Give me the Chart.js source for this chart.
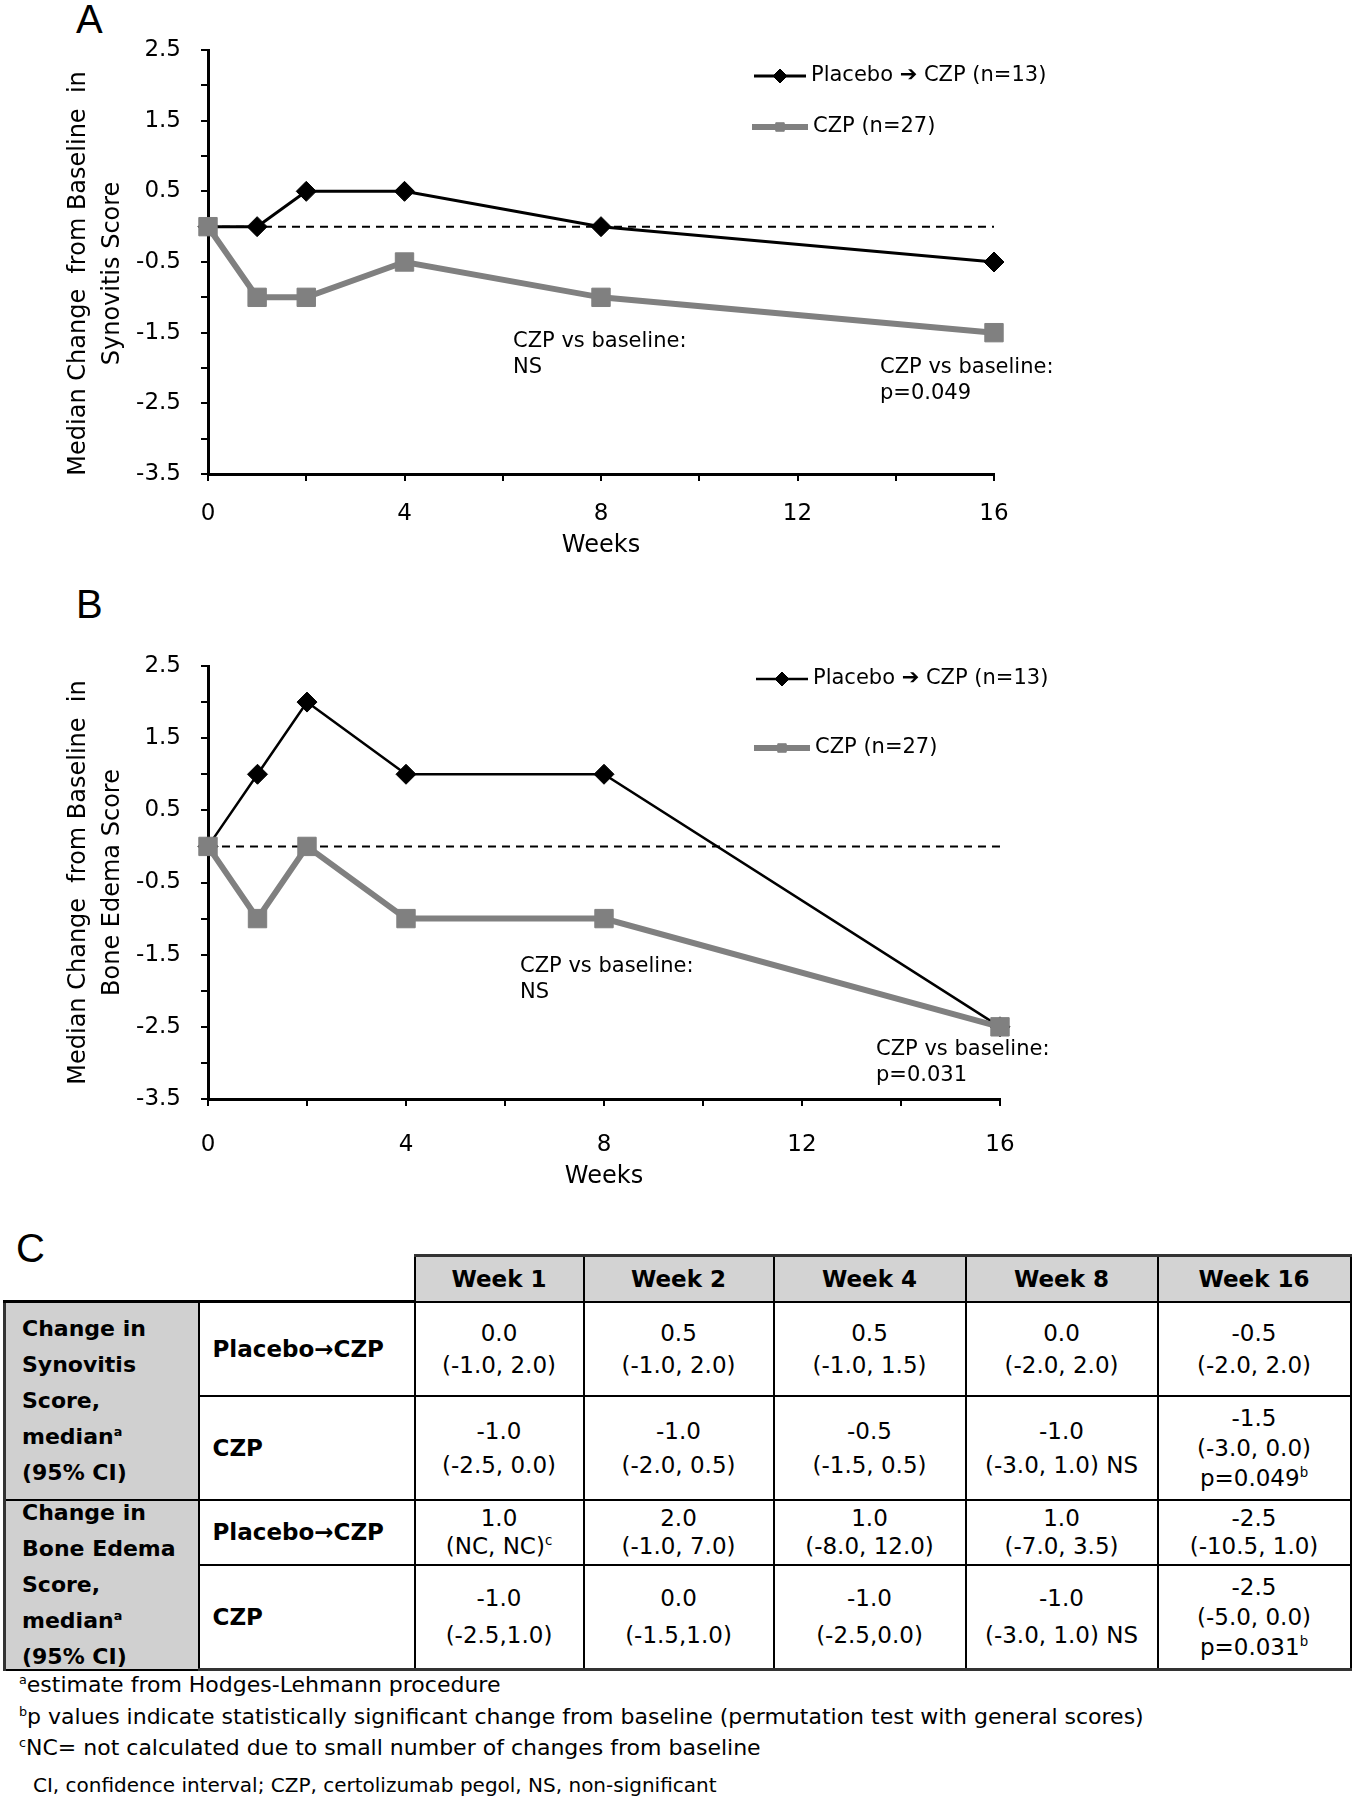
<!DOCTYPE html>
<html>
<head>
<meta charset="utf-8">
<title>Median change from baseline: synovitis and bone edema</title>
<script src="https://cdn.jsdelivr.net/npm/chart.js@4.4.1/dist/chart.umd.min.js"></script>
<style>
  html, body { margin: 0; padding: 0; background: #fff; }
  body { position: relative; width: 1352px; height: 1800px; overflow: hidden; font-family: "DejaVu Sans", Verdana, sans-serif; color: #000; }
  .panel { position: absolute; font-family: "Liberation Sans", Arial, sans-serif; font-size: 40px; line-height: 40px; }
  .plot { position: absolute; left: 0; }
  #tbl { position: absolute; left: 3px; top: 1254px; border-collapse: collapse; table-layout: fixed; }
  #tbl td { border: 2px solid #000; padding: 0; text-align: center; vertical-align: middle; font-size: 23px; overflow: visible; }
  #tbl td.blank { border: none; border-bottom: 3px solid #000; }
  #tbl td.head { background: #d3d3d3; font-weight: bold; border-top: 3px solid #333; }
  #tbl td.lab { background: #d0d0d0; font-weight: bold; text-align: left; padding-left: 16px; line-height: 36px; font-size: 22px; border-left: 3px solid #333; }
  #tbl td.lab div { margin: -7px 0; }
  #tbl td.grp { font-weight: bold; text-align: left; padding-left: 13px; }
  #tbl tr:last-child td { border-bottom: 3px solid #333; }
  sup { font-size: 58%; line-height: 0; vertical-align: super; }
  .notes { position: absolute; left: 19px; top: 1669px; font-size: 22px; line-height: 31.5px; white-space: nowrap; }
  .notes .last { margin-top: 6px; padding-left: 14px; font-size: 20px; }
</style>
</head>
<body>
<div class="panel" style="left:76px; top:-1px;">A</div>
<div class="panel" style="left:76px; top:584px;">B</div>
<div class="panel" style="left:16px; top:1228px;">C</div>
<canvas id="chartA" class="plot" width="1100" height="560" style="top:0;"></canvas>
<canvas id="chartB" class="plot" width="1100" height="640" style="top:560px;"></canvas>
<table id="tbl"></table>
<div class="notes" id="notes"></div>
<script>
// weeks and medians
const weeks = [0, 1, 2, 4, 8, 16];
const synPlacebo = [0, 0, 0.5, 0.5, 0, -0.5];
const synCzp = [0, -1, -1, -0.5, -1, -1.5];
const edemaPlacebo = [0, 1, 2, 1, 1, -2.5];
const edemaCzp = [0, -1, 0, -1, -1, -2.5];
const baselineValue = 0;

const placeboLabel = 'Placebo \u2794 CZP (n=13)';
const czpLabel = 'CZP (n=27)';

// table C
const tableWeeks = ['Week 1', 'Week 2', 'Week 4', 'Week 8', 'Week 16'];
const groupNames = ['Placebo\u2192CZP', 'CZP'];
const synLabel = ['Change in', 'Synovitis', 'Score,', 'median<sup>a</sup>', '(95% CI)'];
const edemaLabel = ['Change in', 'Bone Edema', 'Score,', 'median<sup>a</sup>', '(95% CI)'];
const synPlaceboCells = [['0.0', '(-1.0, 2.0)'], ['0.5', '(-1.0, 2.0)'], ['0.5', '(-1.0, 1.5)'], ['0.0', '(-2.0, 2.0)'], ['-0.5', '(-2.0, 2.0)']];
const synCzpCells = [['-1.0', '(-2.5, 0.0)'], ['-1.0', '(-2.0, 0.5)'], ['-0.5', '(-1.5, 0.5)'], ['-1.0', '(-3.0, 1.0) NS'], ['-1.5', '(-3.0, 0.0)', 'p=0.049<sup>b</sup>']];
const edemaPlaceboCells = [['1.0', '(NC, NC)<sup>c</sup>'], ['2.0', '(-1.0, 7.0)'], ['1.0', '(-8.0, 12.0)'], ['1.0', '(-7.0, 3.5)'], ['-2.5', '(-10.5, 1.0)']];
const edemaCzpCells = [['-1.0', '(-2.5,1.0)'], ['0.0', '(-1.5,1.0)'], ['-1.0', '(-2.5,0.0)'], ['-1.0', '(-3.0, 1.0) NS'], ['-2.5', '(-5.0, 0.0)', 'p=0.031<sup>b</sup>']];
const footnotes = [
  '<sup>a</sup>estimate from Hodges-Lehmann procedure',
  '<sup>b</sup>p values indicate statistically significant change from baseline (permutation test with general scores)',
  '<sup>c</sup>NC= not calculated due to small number of changes from baseline'
];
const abbreviations = 'CI, confidence interval; CZP, certolizumab pegol, NS, non-significant';

const czpGray = '#808080';
const fontFam = '"DejaVu Sans", Verdana, sans-serif';

// legend drawn beside the plot, using each dataset's own style
const sideLegend = {
  id: 'sideLegend',
  afterDatasetsDraw(chart, args, opts) {
    const ctx = chart.ctx;
    opts.items.forEach(it => {
      const ds = chart.data.datasets[it.ds];
      ctx.save();
      ctx.strokeStyle = ds.borderColor;
      ctx.lineWidth = ds.borderWidth;
      ctx.beginPath();
      ctx.moveTo(it.x, it.y);
      ctx.lineTo(it.x + it.len, it.y);
      ctx.stroke();
      ctx.fillStyle = ds.backgroundColor;
      ctx.lineWidth = 1;
      Chart.helpers.drawPoint(ctx, { pointStyle: ds.pointStyle, radius: it.r, borderWidth: 1, rotation: 0 }, it.x + it.len / 2, it.y);
      ctx.fillStyle = '#000';
      ctx.font = '21px ' + fontFam;
      ctx.textBaseline = 'middle';
      ctx.fillText(ds.label, it.x + it.len + 5, it.y);
      ctx.restore();
    });
  }
};

const notes = {
  id: 'notes',
  afterDatasetsDraw(chart, args, opts) {
    const ctx = chart.ctx;
    ctx.save();
    ctx.fillStyle = '#000';
    ctx.font = '21px ' + fontFam;
    ctx.textBaseline = 'middle';
    opts.items.forEach(n => n.lines.forEach((t, i) => ctx.fillText(t, n.x, n.y + i * 26)));
    ctx.restore();
  }
};

function toPoints(vals) {
  return weeks.map((w, i) => ({ x: w, y: vals[i] }));
}

function buildChart(id, placebo, czp, cfg) {
  const axisGrid = { drawOnChartArea: false, color: '#000', lineWidth: 2, tickLength: 7 };
  const axisBorder = { color: '#000', width: 3 };
  return new Chart(document.getElementById(id), {
    type: 'line',
    data: {
      datasets: [
        { label: czpLabel, data: toPoints(czp), borderColor: czpGray, backgroundColor: czpGray,
          borderWidth: 6, pointStyle: 'rect', pointRadius: 13, pointBorderWidth: 1, order: 0, clip: false },
        { label: placeboLabel, data: toPoints(placebo), borderColor: '#000', backgroundColor: '#000',
          borderWidth: cfg.placeboWidth, pointStyle: 'rectRot', pointRadius: 10, pointBorderWidth: 1, order: 1, clip: false },
        { label: 'baseline', data: [{ x: weeks[0], y: baselineValue }, { x: weeks[weeks.length - 1], y: baselineValue }],
          borderColor: '#000', borderWidth: 2, borderDash: [8, 6], pointRadius: 0, order: 2, clip: false }
      ]
    },
    options: {
      responsive: false,
      animation: false,
      devicePixelRatio: 1,
      events: [],
      layout: { padding: { top: cfg.top, right: cfg.right, left: 0, bottom: 0 } },
      plugins: {
        legend: { display: false },
        tooltip: { enabled: false },
        sideLegend: { items: cfg.legend },
        notes: { items: cfg.notes }
      },
      scales: {
        x: {
          type: 'linear', min: 0, max: 16,
          ticks: { stepSize: 2, autoSkip: false, maxRotation: 0, padding: cfg.xTickPad, color: '#000',
            font: { family: fontFam, size: 23 }, callback: v => (v % 4 === 0 ? String(v) : '') },
          grid: axisGrid, border: axisBorder,
          title: { display: true, text: 'Weeks', color: '#000', font: { family: fontFam, size: 24 },
            padding: { top: 0, bottom: cfg.titlePad } },
          afterFit: s => { s.height = cfg.xHeight; }
        },
        y: {
          type: 'linear', min: -3.5, max: 2.5,
          ticks: { stepSize: 0.5, autoSkip: false, padding: 20, color: '#000',
            font: { family: fontFam, size: 23 },
            callback: v => (Math.round(Math.abs(v * 2)) % 2 === 1 ? v.toFixed(1) : '') },
          grid: axisGrid, border: axisBorder,
          title: { display: true, text: cfg.yTitle, color: '#000', font: { family: fontFam, size: 24, lineHeight: 1.42 },
            padding: { top: 62, bottom: 0 } },
          afterFit: s => { s.width = 208; }
        }
      }
    },
    plugins: [sideLegend, notes]
  });
}

buildChart('chartA', synPlacebo, synCzp, {
  top: 50, right: 106, xHeight: 86, xTickPad: 19, titlePad: 0, placeboWidth: 3,
  yTitle: ['Median Change  from Baseline  in   ', 'Synovitis Score   '],
  legend: [{ ds: 1, x: 754, y: 76, len: 52, r: 7 }, { ds: 0, x: 752, y: 127, len: 56, r: 6 }],
  notes: [{ x: 513, y: 342, lines: ['CZP vs baseline:', 'NS'] }, { x: 880, y: 368, lines: ['CZP vs baseline:', 'p=0.049'] }]
});

buildChart('chartB', edemaPlacebo, edemaCzp, {
  top: 106, right: 100, xHeight: 101, xTickPad: 25, titlePad: 9, placeboWidth: 2.5,
  yTitle: ['Median Change  from Baseline  in', 'Bone Edema Score'],
  legend: [{ ds: 1, x: 756, y: 119, len: 52, r: 7 }, { ds: 0, x: 754, y: 188, len: 56, r: 6 }],
  notes: [{ x: 520, y: 407, lines: ['CZP vs baseline:', 'NS'] }, { x: 876, y: 490, lines: ['CZP vs baseline:', 'p=0.031'] }]
});

// table C
const colWidths = [194, 216, 169, 190, 192, 192, 193];
const rowHeights = [94, 104, 65, 105];
const rowLines = [32, 34, 28, 37];
const tbl = document.getElementById('tbl');
let html = '<colgroup>' + colWidths.map(w => '<col style="width:' + w + 'px">').join('') + '</colgroup>';
html += '<tr style="height:46px"><td class="blank" colspan="2"></td>' + tableWeeks.map(w => '<td class="head">' + w + '</td>').join('') + '</tr>';
const bodyRows = [
  { label: synLabel, group: groupNames[0], cells: synPlaceboCells },
  { group: groupNames[1], cells: synCzpCells },
  { label: edemaLabel, group: groupNames[0], cells: edemaPlaceboCells },
  { group: groupNames[1], cells: edemaCzpCells }
];
bodyRows.forEach((r, i) => {
  html += '<tr style="height:' + rowHeights[i] + 'px">';
  if (r.label) html += '<td class="lab" rowspan="2"><div>' + r.label.join('<br>') + '</div></td>';
  html += '<td class="grp">' + r.group + '</td>';
  r.cells.forEach(c => {
    const lh = c.length > 2 ? 30 : rowLines[i];
    html += '<td style="line-height:' + lh + 'px">' + c.join('<br>') + '</td>';
  });
  html += '</tr>';
});
tbl.innerHTML = html;

document.getElementById('notes').innerHTML =
  footnotes.map(f => '<div>' + f + '</div>').join('') + '<div class="last">' + abbreviations + '</div>';
</script>
</body>
</html>
